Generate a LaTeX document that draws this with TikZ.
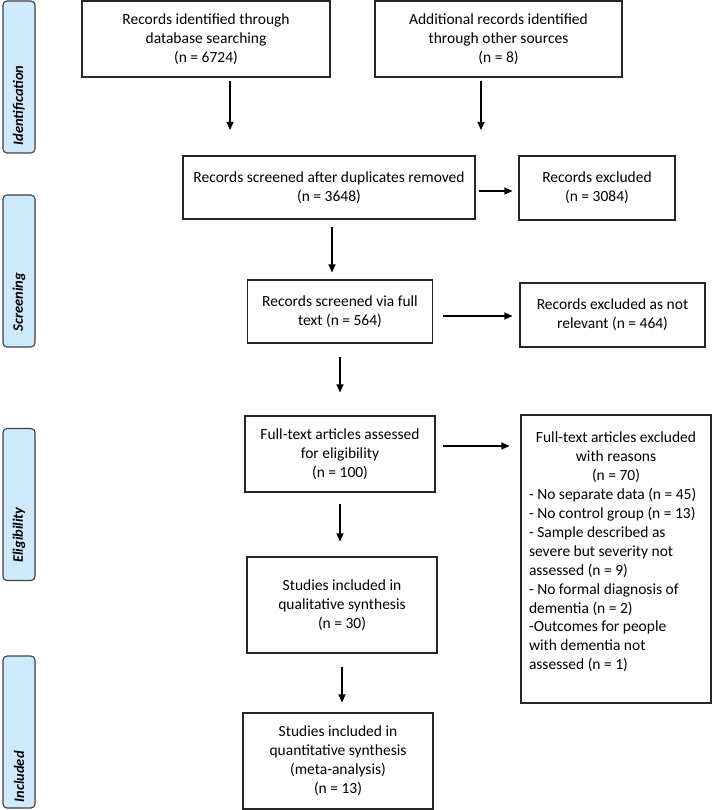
\documentclass[tikz,border=0pt]{standalone}
\usepackage{fontspec}
\setmainfont{Carlito}
\usetikzlibrary{arrows.meta,positioning}
\definecolor{phasefill}{RGB}{207,234,252}

\tikzset{
  box/.style={draw=black!85, line width=1.1pt, align=center, inner sep=2pt,
    font=\fontsize{15.5}{18.9}\selectfont},
  phase/.style={draw=black!75, fill=phasefill, rounded corners=4pt, line width=1.1pt,
    minimum width=32pt, minimum height=152pt},
  phaselabel/.style={rotate=90, anchor=west, inner sep=0pt,
    font=\fontsize{14.5}{16}\selectfont\bfseries\itshape},
  arr/.style={-{Triangle[length=8pt,width=7pt]}, line width=1.1pt},
}

\begin{document}
\begin{tikzpicture}[x=1pt, y=-1pt]
    \useasboundingbox (0,0) rectangle (712,810);

    % phase bars on the left
    \node[phase] (ident) at (19,77) {};
    \node[phase] (scr) at (19,271) {};
    \node[phase] (elig) at (19,504.5) {};
    \node[phase] (incl) at (19,732) {};
    \node[phaselabel] at ([yshift=8pt]ident.south) {Identification};
    \node[phaselabel] at ([yshift=16pt]scr.south) {Screening};
    \node[phaselabel] at ([yshift=18pt]elig.south) {Eligibility};
    \node[phaselabel] at ([yshift=6pt]incl.south) {Included};

    % flow boxes
    \node[box, minimum width=248pt, minimum height=76pt] (db) at (206,39)
        {Records identified through\\ database searching\\ (n = 6724)};
    \node[box, minimum width=247pt, minimum height=76pt] (other) at (498.5,39)
        {Additional records identified\\ through other sources\\ (n = 8)};
    \node[box, minimum width=292pt, minimum height=63pt] (screen) at (329,187.5)
        {Records screened after duplicates removed\\ (n = 3648)};
    \node[box, minimum width=156pt, minimum height=64pt] (excl) at (597,188)
        {Records excluded\\ (n = 3084)};
    \node[box, minimum width=185pt, minimum height=63pt] (full) at (340,311.5)
        {Records screened via full\\ text (n = 564)};
    \node[box, minimum width=185pt, minimum height=64pt] (notrel) at (612.5,315)
        {Records excluded as not\\ relevant (n = 464)};
    \node[box, minimum width=190pt, minimum height=76pt] (assess) at (340,454)
        {Full-text articles assessed\\ for eligibility\\ (n = 100)};
    \node[box, minimum width=190pt, minimum height=96pt] (qual) at (342,605)
        {Studies included in\\ qualitative synthesis\\ (n = 30)};
    \node[box, minimum width=190pt, minimum height=96pt] (quant) at (338,761)
        {Studies included in\\ quantitative synthesis\\ (meta-analysis)\\ (n = 13)};
    \node[box, minimum width=190pt, minimum height=288pt, text width=174pt, align=none]
        (reasons) at (616,559)
        {\centering Full-text articles excluded\\ with reasons\\ (n = 70)\par
         \raggedright - No separate data (n = 45)\\
         - No control group (n = 13)\\
         - Sample described as\\ severe but severity not\\ assessed (n = 9)\\
         - No formal diagnosis of\\ dementia (n = 2)\\
         -Outcomes for people\\ with dementia not\\ assessed (n = 1)\par
         \vskip 14pt\hrule height 0pt width 0pt};

    % arrows
    \coordinate (dbend) at (230,130);
    \coordinate (otherend) at (481,130);
    \draw[arr, shorten <=3pt] (db.south -| dbend) -- (dbend);
    \draw[arr, shorten <=3pt] (other.south -| otherend) -- (otherend);
    \draw[arr, shorten <=3pt, shorten >=6pt] ([yshift=-3.5pt]screen.east) -- ([yshift=-3.5pt]screen.east -| excl.west);
    \draw[arr, shorten <=7pt, shorten >=7pt] ([xshift=3pt]screen.south) -- ([xshift=3pt]screen.south |- full.north);
    \draw[arr, shorten <=10pt, shorten >=7pt] ([yshift=-4.5pt]full.east) -- ([yshift=-4.5pt]full.east -| notrel.west);
    \draw[arr, shorten <=13pt, shorten >=23pt] (full.south) -- (full.south |- assess.north);
    \draw[arr, shorten <=7pt, shorten >=11pt] ([yshift=8pt]assess.east) -- ([yshift=8pt]assess.east -| reasons.west);
    \draw[arr, shorten <=11pt, shorten >=15pt] (assess.south) -- (assess.south |- qual.north);
    \draw[arr, shorten <=13pt, shorten >=10pt] (qual.south) -- (qual.south |- quant.north);
\end{tikzpicture}
\end{document}
